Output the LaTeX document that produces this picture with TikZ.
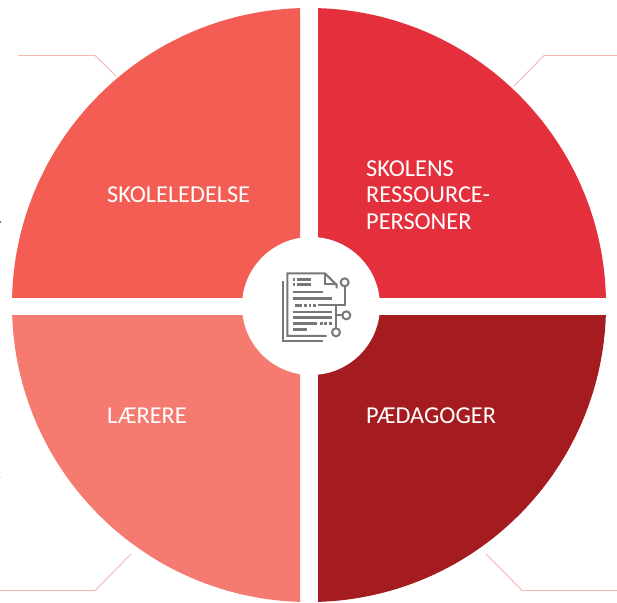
\documentclass[tikz,border=0pt]{standalone}
\usepackage{fontspec}
\setmainfont{Carlito}
\definecolor{qa}{HTML}{F35D54}
\definecolor{qb}{HTML}{E4303D}
\definecolor{qc}{HTML}{F57A70}
\definecolor{qd}{HTML}{A51C20}
\definecolor{leader}{HTML}{F8B8B6}
\definecolor{icon}{HTML}{77787B}
\tikzset{
  leaderline/.style={draw=leader,line width=0.9pt},
  lab/.style={text=white,font=\fontsize{24.3}{26.5}\selectfont,anchor=west,align=left,inner sep=0pt},
  ic/.style={draw=icon,line width=2pt},
  ict/.style={draw=icon,line width=2.7pt},
  ring/.style={draw=icon,line width=2pt,fill=white}
}
\begin{document}
\begin{tikzpicture}[x=1pt,y=-1pt]
\useasboundingbox (0,0) rectangle (617,602);
\fill[white] (0,0) rectangle (617,602);
\coordinate (c) at (309,305);
% leaders
\draw[leaderline] (18,55.5) -- (95,55.5) -- (116,76);
\draw[leaderline] (617,55.5) -- (544,55.5) -- (514,86);
\draw[leaderline] (0,590.5) -- (95,590.5) -- (131,554);
\draw[leaderline] (617,590.5) -- (522,590.5) -- (486,554);
% quarters
\begin{scope}
\clip (0,0) rectangle (300,297);
\fill[qa] (c) circle[radius=297];
\end{scope}
\begin{scope}
\clip (318,0) rectangle (617,297);
\fill[qb] (c) circle[radius=297];
\end{scope}
\begin{scope}
\clip (0,315) rectangle (300,602);
\fill[qc] (c) circle[radius=297];
\end{scope}
\begin{scope}
\clip (318,315) rectangle (617,602);
\fill[qd] (c) circle[radius=297];
\end{scope}
\fill[white] (311,306) circle[radius=69];
% labels
\node[lab] (t1) at (107,195) {SKOLELEDELSE};
\node[lab] (t2) at (366,195) {SKOLENS\\RESSOURCE-\\PERSONER};
\node[lab] (t3) at (107,416) {LÆRERE};
\node[lab] (t4) at (366,416) {PÆDAGOGER};
% icon (coordinates in 3x zoom pixels)
\begin{scope}[shift={(240,235)},x=0.3333pt,y=-0.3333pt]
\draw[ic,line join=miter] (290,160) -- (290,150) -- (255,115) -- (142,115) -- (142,303) -- (260,303);
\draw[ic] (255,115) -- (255,148) -- (290,148);
\draw[ic] (128,138) -- (128,318) -- (248,318);
\draw[ict] (172,134) -- (214,134);
\draw[ict] (172,148) -- (214,148);
\draw[ict] (159,134) -- (166,134);
\draw[ict] (159,148) -- (166,148);
\draw[ict] (158,171) -- (249,171);
\draw[ict] (158,190) -- (276,190);
\draw[ict] (165,211) -- (186,211);
\draw[ict] (192,211) -- (200,211);
\draw[ict] (206,211) -- (214,211);
\draw[ict] (220,211) -- (229,211);
\draw[ict] (158,231) -- (276,231);
\draw[ict] (158,247) -- (276,247);
\draw[ict] (158,265) -- (232,265);
\draw[ict] (240,265) -- (248,265);
\draw[ict] (253,265) -- (261,265);
\draw[ict] (267,265) -- (276,265);
\draw[ict] (158,284) -- (201,284);
\draw[ic] (235,211) -- (314,211) -- (314,154);
\draw[ic] (288,211) -- (288,280);
\draw[ic] (288,241) -- (308,241);
\draw[ring] (314,142) circle[radius=12];
\draw[ring] (319,241) circle[radius=12];
\draw[ring] (288,292) circle[radius=12];
\end{scope}
% stray specks at the left edge
\fill[icon] (0,221) rectangle (1,223);
\fill[icon!30] (0,477) rectangle (1,478);
\end{tikzpicture}
\end{document}
